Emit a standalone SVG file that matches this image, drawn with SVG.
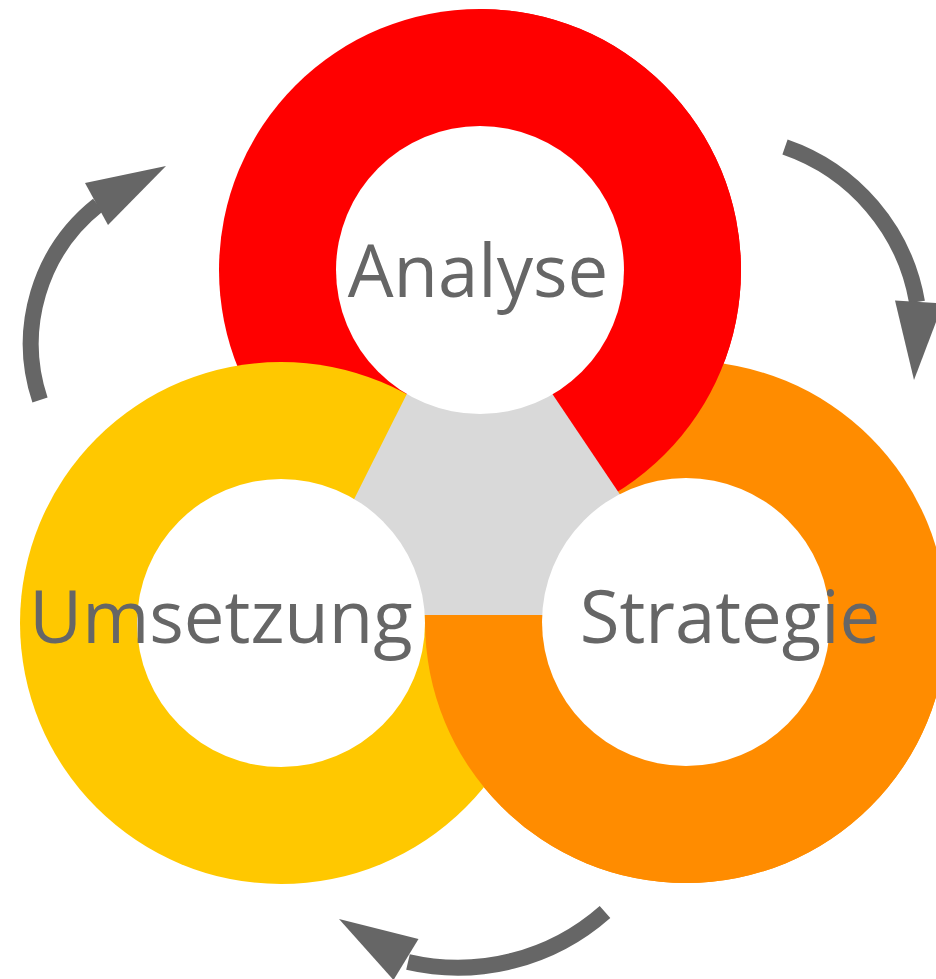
<svg xmlns="http://www.w3.org/2000/svg" width="936" height="979" viewBox="0 0 936 979">
  <style>
    .lbl { font-family: "Open Sans", "Noto Sans", "Liberation Sans", sans-serif; font-size: 72.5px; fill: #666666; text-anchor: middle; }
    .hole { fill: #ffffff; }
    .arc { fill: none; stroke: #666666; stroke-width: 16; stroke-linecap: butt; }
    .head { fill: #666666; }
  </style>
  <defs>
    <clipPath id="clipRight"><rect x="480" y="0" width="456" height="615"/></clipPath>
    <clipPath id="clipBottom"><rect x="400" y="615" width="536" height="364"/></clipPath>
  </defs>
  <rect width="936" height="979" fill="#ffffff"/>
  <g id="rings">
    <circle cx="480" cy="270" r="261" fill="#FF0000"/>
    <circle cx="686" cy="622" r="261" fill="#FF8C00"/>
    <circle cx="480" cy="270" r="261" fill="#FF0000" clip-path="url(#clipRight)"/>
    <circle cx="281" cy="623" r="261" fill="#FFC800"/>
    <polygon points="469,270 296,615 701,615" fill="#D9D9D9"/>
    <circle cx="686" cy="622" r="261" fill="#FF8C00" clip-path="url(#clipBottom)"/>
  </g>
  <g id="node-analyse">
    <circle class="hole" cx="480" cy="270" r="144"/>
    <text class="lbl" x="478" y="297">Analyse</text>
  </g>
  <g id="node-strategie">
    <circle class="hole" cx="686" cy="622" r="144"/>
    <text class="lbl" x="730" y="643">Strategie</text>
  </g>
  <g id="node-umsetzung">
    <circle class="hole" cx="281" cy="623" r="144"/>
    <text class="lbl" x="221" y="643">Umsetzung</text>
  </g>
  <g id="connectors">
    <path class="arc" d="M40,400 A177,177 0 0 1 98,205"/>
    <polygon class="head" points="166,166 85,183 108,225"/>
    <path class="arc" d="M785,147 A200,200 0 0 1 917,302"/>
    <polygon class="head" points="914,380 895,300.5 943,303.5"/>
    <path class="arc" d="M605,912 A222,222 0 0 1 408,962"/>
    <polygon class="head" points="339,919 418.5,939 393.5,980"/>
  </g>
</svg>
